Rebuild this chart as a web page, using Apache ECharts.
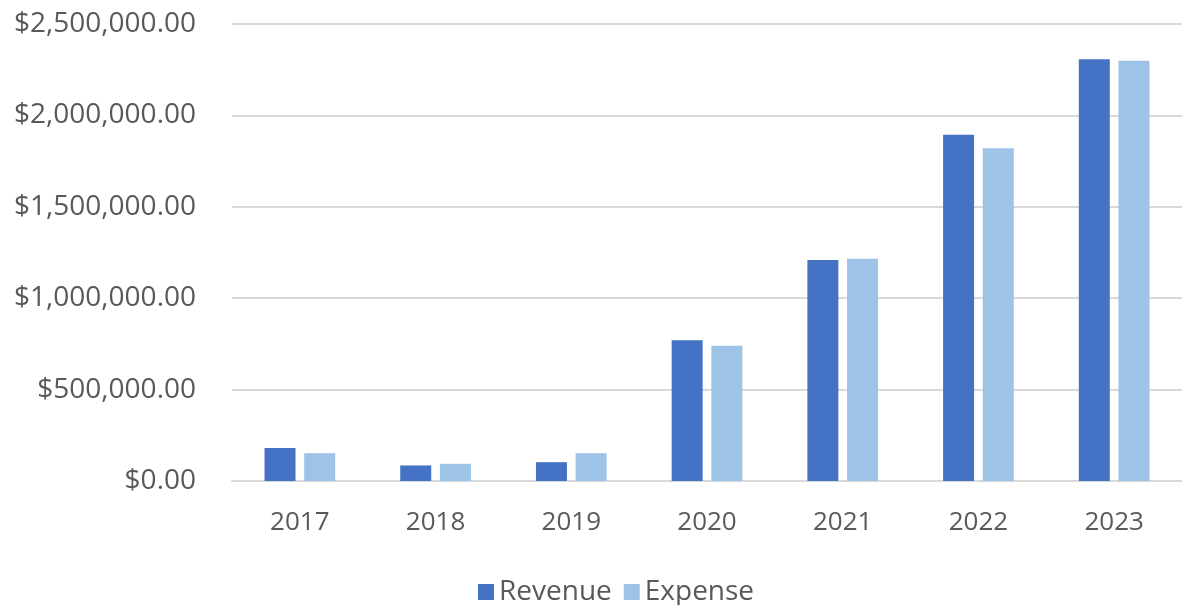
<!DOCTYPE html>
<html>
<head>
<meta charset="utf-8">
<script src="https://cdn.jsdelivr.net/npm/echarts@6/dist/echarts.min.js"></script>
<style>
  html, body { margin: 0; padding: 0; background: #fff; }
</style>
</head>
<body>
<!-- chart box must have width and height -->
<div id="chartBox" style="width: 1182px; height: 605px;"></div>
<script>
const years = ['2017', '2018', '2019', '2020', '2021', '2022', '2023'];
const revenue = [180000, 85000, 103000, 770000, 1209000, 1894000, 2307000];
const expense = [152000, 94000, 152000, 740000, 1216000, 1820000, 2299000];
const yTicks = [0, 500000, 1000000, 1500000, 2000000, 2500000];

const chart = echarts.init(document.getElementById('chartBox'));

const textColor = '#595959';
const gridColor = '#d9d9d9';

function money(v) {
  return '$' + v.toLocaleString('en-US', { minimumFractionDigits: 2, maximumFractionDigits: 2 });
}

const option = {
  animation: false,
  color: ['#4472C4', '#9DC3E6'],
  textStyle: { fontFamily: 'Open Sans' },
  legend: {
    data: ['Revenue', 'Expense'],
    bottom: -6,
    left: 473,
    itemWidth: 16,
    itemHeight: 16,
    itemGap: 12,
    icon: 'rect',
    textStyle: { color: textColor, fontSize: 28, fontFamily: 'Open Sans' }
  },
  grid: {
    left: 232,
    top: 24,
    bottom: 124,
    width: 960
  },
  xAxis: {
    type: 'category',
    data: years,
    axisTick: { show: false },
    axisLine: { lineStyle: { color: gridColor, width: 2 } },
    axisLabel: { color: textColor, fontSize: 26, margin: 29 }
  },
  yAxis: {
    type: 'value',
    min: yTicks[0],
    max: yTicks[yTicks.length - 1],
    interval: yTicks[1] - yTicks[0],
    axisLine: { show: false },
    axisTick: { show: false },
    splitLine: { lineStyle: { color: gridColor, width: 2 } },
    axisLabel: { color: textColor, fontSize: 28, margin: 36, formatter: money }
  },
  series: [
    { name: 'Revenue', type: 'bar', data: revenue, barWidth: 31, barGap: '28%' },
    { name: 'Expense', type: 'bar', data: expense, barWidth: 31, barGap: '28%' }
  ]
};

chart.setOption(option);
</script>
</body>
</html>
